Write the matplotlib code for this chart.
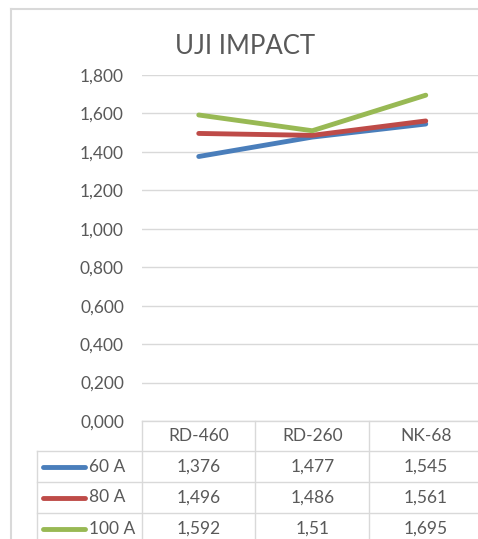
import matplotlib
matplotlib.use("Agg")
import matplotlib.pyplot as plt
from matplotlib.lines import Line2D

# data
categories = ["RD-460", "RD-260", "NK-68"]
series_names = ["60 A", "80 A", "100 A"]
vals_60 = [1.376, 1.477, 1.545]
vals_80 = [1.496, 1.486, 1.561]
vals_100 = [1.592, 1.51, 1.695]
yticks = [0.0, 0.2, 0.4, 0.6, 0.8, 1.0, 1.2, 1.4, 1.6, 1.8]

colours = ["#4A7EBB", "#BE4B48", "#98B954"]
grid_c = "#D9D9D9"
text_c = "#595959"
fs = 12.5
plt.rcParams["font.family"] = ["Lato", "DejaVu Sans"]

W, H = 478, 539
fig = plt.figure(figsize=(W / 100, H / 100), dpi=100)

def fx(x):
    return x / W

def fy(y):
    return 1 - y / H

# plot area in pixels
left, right = 142, 142 + 3 * 113.5
top, bottom = 75, 421
ax = fig.add_axes([fx(left), fy(bottom), fx(right) - fx(left), fy(top) - fy(bottom)])
ax.set_xlim(-0.5, 2.5)
ax.set_ylim(0, 1.8)
for s in ax.spines.values():
    s.set_visible(False)
ax.set_xticks([])
ax.set_yticks(yticks)
ax.set_yticklabels(["{:.3f}".format(v).replace(".", ",") for v in yticks],
                   color=text_c, fontsize=fs)
ax.tick_params(axis="y", length=0, pad=13)
ax.yaxis.grid(True, color=grid_c, lw=1)
ax.set_axisbelow(True)

data = [vals_60, vals_80, vals_100]
for vals, c in zip(data, colours):
    ax.plot(range(len(categories)), vals, color=c, lw=3.5, solid_capstyle="round")

fig.text(fx(245), fy(47), "UJI IMPACT", ha="center", va="center", fontsize=18.5, color=text_c)

# outer chart frame (cropped on right and bottom)
fig.add_artist(Line2D([fx(11), fx(11)], [fy(9), 0], color=grid_c, lw=1.5, transform=fig.transFigure))
fig.add_artist(Line2D([fx(11), 1], [fy(9), fy(9)], color=grid_c, lw=1.5, transform=fig.transFigure))

# data table
col_w = 113.5
row_h = 31
hdr_bottom = bottom + 30

def hline(y, x0, x1):
    fig.add_artist(Line2D([fx(x0), fx(x1)], [fy(y), fy(y)], color=grid_c, lw=1, transform=fig.transFigure))

def vline(x, y0, y1):
    fig.add_artist(Line2D([fx(x), fx(x)], [fy(y0), fy(y1)], color=grid_c, lw=1, transform=fig.transFigure))

hline(bottom, left, W)
for i in range(len(series_names)):
    hline(hdr_bottom + i * row_h, 37, W)
for j in range(len(categories)):
    vline(left + j * col_w, bottom, H)
vline(37, hdr_bottom, H)

for j, cat in enumerate(categories):
    fig.text(fx(left + (j + 0.5) * col_w), fy(bottom + 15), cat,
             ha="center", va="center", fontsize=fs, color=text_c)

for i, (name, vals, c) in enumerate(zip(series_names, data, colours)):
    yc = hdr_bottom + (i + 0.5) * row_h
    fig.add_artist(Line2D([fx(43), fx(85)], [fy(yc), fy(yc)], color=c, lw=3.5,
                          solid_capstyle="round", transform=fig.transFigure))
    fig.text(fx(89), fy(yc), name, ha="left", va="center", fontsize=fs, color=text_c)
    for j, v in enumerate(vals):
        fig.text(fx(left + (j + 0.5) * col_w), fy(yc), str(v).replace(".", ","),
                 ha="center", va="center", fontsize=fs, color=text_c)

fig.savefig("out.png", dpi=100, facecolor="white")
